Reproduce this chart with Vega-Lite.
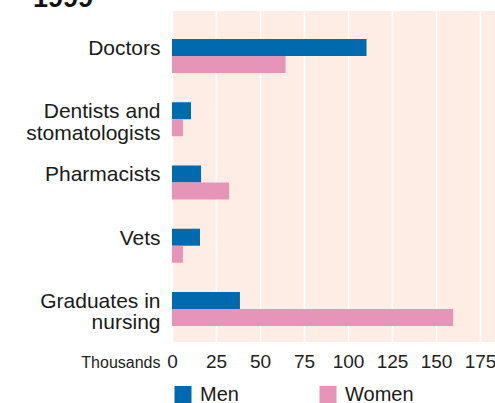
{
  "$schema": "https://vega.github.io/schema/vega-lite/v6.json",
  "width": 323,
  "height": 331,
  "autosize": {"type": "none"},
  "padding": {"left": 172, "top": 11, "right": 0, "bottom": 61},
  "background": "white",
  "title": {
    "text": "1999",
    "anchor": "start",
    "frame": "group",
    "baseline": "alphabetic",
    "offset": -23,
    "dx": -139,
    "font": "Liberation Sans",
    "fontSize": 27,
    "fontWeight": "bold",
    "color": "#111111"
  },
  "config": {
    "view": {"fill": "#fdede5", "stroke": null},
    "font": "Liberation Sans"
  },
  "data": {
    "values": [
      {"profession": "Doctors", "gender": "Men", "value": 110.5},
      {"profession": "Doctors", "gender": "Women", "value": 64.5},
      {"profession": "Dentists and stomatologists", "gender": "Men", "value": 10.8},
      {"profession": "Dentists and stomatologists", "gender": "Women", "value": 6.2},
      {"profession": "Pharmacists", "gender": "Men", "value": 16.5},
      {"profession": "Pharmacists", "gender": "Women", "value": 32.4},
      {"profession": "Vets", "gender": "Men", "value": 15.9},
      {"profession": "Vets", "gender": "Women", "value": 6.2},
      {"profession": "Graduates in nursing", "gender": "Men", "value": 38.6},
      {"profession": "Graduates in nursing", "gender": "Women", "value": 159.7}
    ]
  },
  "mark": {"type": "bar"},
  "encoding": {
    "y": {
      "field": "profession",
      "type": "nominal",
      "sort": null,
      "scale": {"paddingInner": 0.4625, "paddingOuter": 0.348, "align": 0.636},
      "axis": {
        "title": null,
        "domain": false,
        "ticks": false,
        "grid": false,
        "labelPadding": 12,
        "labelFontSize": 21,
        "labelColor": "#1a1a1a",
        "labelLineHeight": 21.5,
        "labelOffset": -7,
        "labelLimit": 300,
        "labelExpr": "datum.value == 'Dentists and stomatologists' ? ['Dentists and', 'stomatologists'] : datum.value == 'Graduates in nursing' ? ['Graduates in', 'nursing'] : datum.value"
      }
    },
    "yOffset": {
      "field": "gender",
      "type": "nominal",
      "scale": {"domain": ["Men", "Women"], "paddingInner": 0, "paddingOuter": 0}
    },
    "x": {
      "field": "value",
      "type": "quantitative",
      "scale": {"domain": [0, 183.5], "nice": false, "zero": true},
      "axis": {
        "title": "Thousands",
        "titleX": -12,
        "titleY": 25,
        "titleAlign": "right",
        "titleBaseline": "alphabetic",
        "titleFontSize": 16,
        "titleFontWeight": "normal",
        "titleColor": "#222222",
        "values": [0, 25, 50, 75, 100, 125, 150, 175],
        "domain": false,
        "ticks": false,
        "grid": true,
        "gridColor": "#ffffff",
        "gridWidth": 1.6,
        "gridOpacity": 1,
        "labelPadding": 10,
        "labelFontSize": 19,
        "labelColor": "#222222",
        "labelFlush": false
      }
    },
    "color": {
      "field": "gender",
      "type": "nominal",
      "scale": {"domain": ["Men", "Women"], "range": ["#006aaf", "#e695b9"]},
      "legend": {
        "title": null,
        "orient": "none",
        "legendX": 1,
        "legendY": 373.5,
        "direction": "horizontal",
        "symbolType": "square",
        "symbolSize": 289,
        "symbolStrokeWidth": 0,
        "symbolOpacity": 1,
        "labelFontSize": 20,
        "labelColor": "#1a1a1a",
        "labelOffset": 7,
        "columnPadding": 79,
        "padding": 0
      }
    }
  }
}
